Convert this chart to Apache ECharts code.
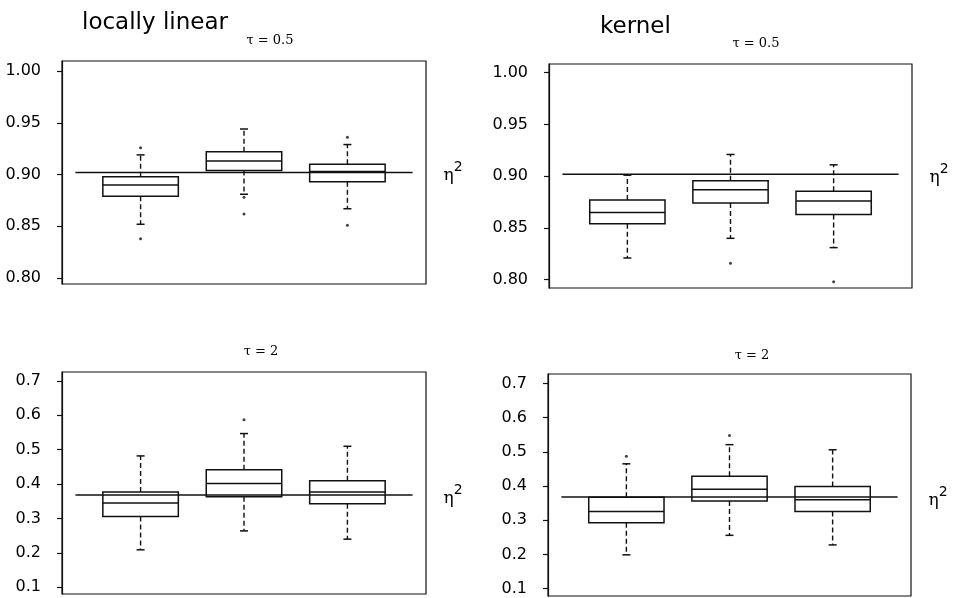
<!DOCTYPE html>
<html>
<head>
<meta charset="utf-8">
<script src="https://cdn.jsdelivr.net/npm/echarts@6/dist/echarts.min.js"></script>
<style>html,body{margin:0;padding:0;background:#fff;}#c{width:959px;height:598px;}</style>
</head>
<body>
<div id="c"></div>
<script>
// ---- data ----
const groups = [1, 2, 3];
const ticksTop = [0.80, 0.85, 0.90, 0.95, 1.00];
const ticksBottom = [0.1, 0.2, 0.3, 0.4, 0.5, 0.6, 0.7];
const eta05 = 0.902;
const eta2 = 0.368;

// locally linear, tau = 0.5
const ll05Low  = [0.852, 0.881, 0.867];
const ll05Q1   = [0.879, 0.904, 0.893];
const ll05Med  = [0.890, 0.913, 0.903];
const ll05Q3   = [0.898, 0.922, 0.910];
const ll05High = [0.919, 0.944, 0.929];
const ll05Out  = [[1, 0.926], [1, 0.838], [2, 0.878], [2, 0.862], [3, 0.936], [3, 0.851]];

// kernel, tau = 0.5
const k05Low  = [0.821, 0.840, 0.831];
const k05Q1   = [0.854, 0.874, 0.863];
const k05Med  = [0.865, 0.887, 0.876];
const k05Q3   = [0.877, 0.8955, 0.8855];
const k05High = [0.901, 0.921, 0.911];
const k05Out  = [[2, 0.816], [3, 0.798]];

// locally linear, tau = 2
const ll2Low  = [0.209, 0.264, 0.240];
const ll2Q1   = [0.306, 0.363, 0.343];
const ll2Med  = [0.345, 0.402, 0.377];
const ll2Q3   = [0.377, 0.442, 0.410];
const ll2High = [0.482, 0.547, 0.510];
const ll2Out  = [[2, 0.587]];

// kernel, tau = 2
const k2Low  = [0.199, 0.256, 0.228];
const k2Q1   = [0.293, 0.356, 0.326];
const k2Med  = [0.326, 0.391, 0.360];
const k2Q3   = [0.367, 0.429, 0.399];
const k2High = [0.465, 0.521, 0.506];
const k2Out  = [[1, 0.487], [2, 0.548]];

// ---- chart ----
const INK = '#111';
const BOX_W = 0.73;

function boxRows(lo, q1, md, q3, hi) {
  return groups.map((g, i) => [g, lo[i], q1[i], md[i], q3[i], hi[i]]);
}

function renderBox(params, api) {
  const x = api.value(0);
  const pLo = api.coord([x, api.value(1)]);
  const pQ1 = api.coord([x, api.value(2)]);
  const pMd = api.coord([x, api.value(3)]);
  const pQ3 = api.coord([x, api.value(4)]);
  const pHi = api.coord([x, api.value(5)]);
  const hw = api.size([BOX_W, 0])[0] / 2;
  const cx = pMd[0];
  const cap = 4;
  const solid = { stroke: INK, lineWidth: 1.5 };
  const dash = { stroke: INK, lineWidth: 1.4, lineDash: [5, 3] };
  return {
    type: 'group',
    children: [
      { type: 'line', shape: { x1: cx, y1: pQ3[1], x2: cx, y2: pHi[1] }, style: dash },
      { type: 'line', shape: { x1: cx, y1: pQ1[1], x2: cx, y2: pLo[1] }, style: dash },
      { type: 'line', shape: { x1: cx - cap, y1: pHi[1], x2: cx + cap, y2: pHi[1] }, style: solid },
      { type: 'line', shape: { x1: cx - cap, y1: pLo[1], x2: cx + cap, y2: pLo[1] }, style: solid },
      { type: 'rect', shape: { x: cx - hw, y: pQ3[1], width: 2 * hw, height: pQ1[1] - pQ3[1] },
        style: { stroke: INK, lineWidth: 1.5, fill: 'transparent' } },
      { type: 'line', shape: { x1: cx - hw, y1: pMd[1], x2: cx + hw, y2: pMd[1] }, style: { stroke: INK, lineWidth: 1.5 } }
    ]
  };
}

const panels = [
  { grid: { left: 62, top: 61, width: 364, height: 223 }, yMin: 0.7943, yMax: 1.0097, ticks: ticksTop, dec: 2,
    rows: boxRows(ll05Low, ll05Q1, ll05Med, ll05Q3, ll05High), out: ll05Out, eta: eta05 },
  { grid: { left: 549, top: 64, width: 363, height: 224 }, yMin: 0.792, yMax: 1.0084, ticks: ticksTop, dec: 2,
    rows: boxRows(k05Low, k05Q1, k05Med, k05Q3, k05High), out: k05Out, eta: eta05 },
  { grid: { left: 62, top: 372, width: 364, height: 222 }, yMin: 0.0805, yMax: 0.726, ticks: ticksBottom, dec: 1,
    rows: boxRows(ll2Low, ll2Q1, ll2Med, ll2Q3, ll2High), out: ll2Out, eta: eta2 },
  { grid: { left: 548, top: 374, width: 363, height: 222 }, yMin: 0.0787, yMax: 0.7275, ticks: ticksBottom, dec: 1,
    rows: boxRows(k2Low, k2Q1, k2Med, k2Q3, k2High), out: k2Out, eta: eta2 }
];

const grids = [], xAxes = [], yAxes = [], series = [];
panels.forEach((p, i) => {
  grids.push(Object.assign({ show: true, borderColor: INK, borderWidth: 1.2, backgroundColor: 'transparent' }, p.grid));
  xAxes.push({ type: 'value', gridIndex: i, min: 0.24, max: 3.76, show: false });
  yAxes.push({
    type: 'value', gridIndex: i, min: p.yMin, max: p.yMax,
    axisLine: { show: true, lineStyle: { color: INK, width: 1.2 } },
    axisTick: { show: true, length: 5, customValues: p.ticks, lineStyle: { color: INK, width: 1.2 } },
    axisLabel: { customValues: p.ticks, margin: 21, color: '#000', fontFamily: 'DejaVu Sans', fontSize: 16,
      formatter: v => v.toFixed(p.dec) },
    splitLine: { show: false }
  });
  series.push({
    type: 'custom', xAxisIndex: i, yAxisIndex: i, renderItem: renderBox,
    encode: { x: 0, y: [1, 2, 3, 4, 5] }, data: p.rows, z: 3
  });
  series.push({
    type: 'scatter', xAxisIndex: i, yAxisIndex: i, data: p.out, symbolSize: 3,
    itemStyle: { color: INK }, z: 4
  });
  series.push({
    type: 'line', xAxisIndex: i, yAxisIndex: i, data: [[0.37, p.eta], [3.63, p.eta]],
    symbol: 'none', lineStyle: { color: INK, width: 1.5 }, z: 2,
    endLabel: {
      show: true, distance: 31, formatter: '{e|η}{s|2}',
      rich: {
        e: { fontFamily: 'DejaVu Serif', fontSize: 17, color: '#000', lineHeight: 24, verticalAlign: 'bottom' },
        s: { fontFamily: 'DejaVu Sans', fontSize: 14, color: '#000', lineHeight: 24, verticalAlign: 'top' }
      }
    }
  });
});

const serif = { fontFamily: 'DejaVu Serif', fontSize: 13, fontWeight: 'normal', color: '#000' };
const sans = { fontFamily: 'DejaVu Sans', fontSize: 23, fontWeight: 'normal', color: '#000' };

const option = {
  animation: false,
  backgroundColor: '#fff',
  title: [
    { text: 'locally linear', left: 82, top: 12, textStyle: sans, padding: 0 },
    { text: 'kernel', left: 600, top: 16, textStyle: sans, padding: 0 },
    { text: 'τ = 0.5', left: 270, top: 34, textAlign: 'center', textStyle: serif, padding: 0 },
    { text: 'τ = 0.5', left: 756, top: 37, textAlign: 'center', textStyle: serif, padding: 0 },
    { text: 'τ = 2', left: 261, top: 345, textAlign: 'center', textStyle: serif, padding: 0 },
    { text: 'τ = 2', left: 752, top: 349, textAlign: 'center', textStyle: serif, padding: 0 }
  ],
  grid: grids,
  xAxis: xAxes,
  yAxis: yAxes,
  series: series
};

const chart = echarts.init(document.getElementById('c'), null, { renderer: 'canvas' });
chart.setOption(option);
</script>
</body>
</html>
